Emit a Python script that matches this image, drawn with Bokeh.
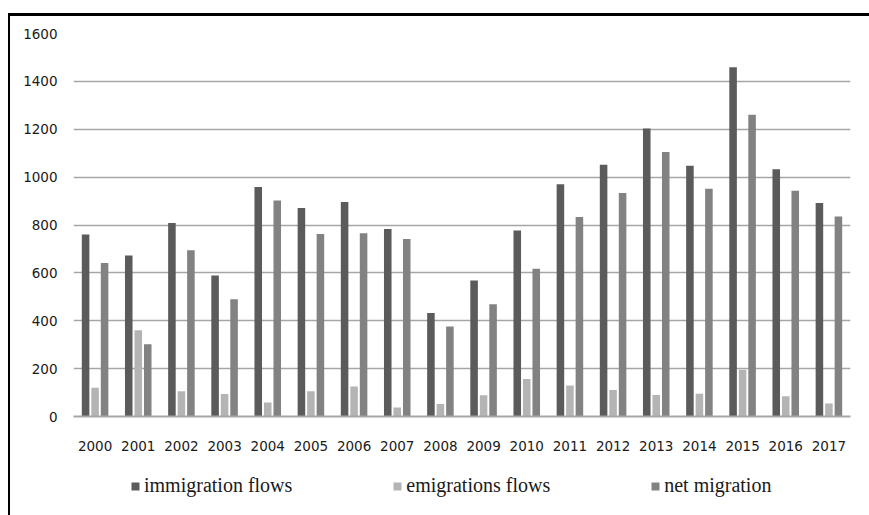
from bokeh.plotting import figure
from bokeh.layouts import column
from bokeh.models import (ColumnDataSource, FactorRange, Range1d, FixedTicker,
                          Legend, LegendItem)
from bokeh.transform import dodge
from bokeh.embed import file_html
from bokeh.resources import INLINE

# Migration flows per year (thousands)
years = [str(y) for y in range(2000, 2018)]
immigration = [760, 673, 808, 589, 959, 871, 896, 783, 432, 568,
               777, 970, 1052, 1203, 1048, 1459, 1033, 892]
emigration = [120, 360, 105, 94, 58, 105, 125, 38, 52, 89,
              157, 130, 111, 90, 95, 195, 85, 54]
net_migration = [641, 302, 694, 490, 902, 762, 766, 741, 376, 469,
                 617, 833, 934, 1105, 951, 1261, 943, 835]
y_ticks = [0, 200, 400, 600, 800, 1000, 1200, 1400, 1600]

series_keys = ["imm", "emi", "net"]
series_labels = ["immigration flows", "emigrations flows", "net migration"]
series_colors = ["#5b5b5b", "#b4b4b4", "#828282"]
series_offsets = [-0.22, 0.0, 0.22]

source = ColumnDataSource(data=dict(
    year=years, imm=immigration, emi=emigration, net=net_migration))

p = figure(x_range=FactorRange(factors=years), y_range=Range1d(0, 1600),
           width=859, height=440, output_backend="svg", toolbar_location=None,
           min_border_left=63, min_border_right=19,
           min_border_top=17, min_border_bottom=40)
p.outline_line_color = None
p.border_fill_color = "white"

bar_w = 0.175
for key, col, off in zip(series_keys, series_colors, series_offsets):
    p.vbar(x=dodge("year", off, range=p.x_range), top=key, width=bar_w,
           source=source, fill_color=col, line_color=None)

# axes and grid
p.yaxis.ticker = FixedTicker(ticks=y_ticks)
p.yaxis.axis_line_color = None
p.yaxis.major_label_standoff = 16
p.xaxis.axis_line_color = "#a6a6a6"
p.xaxis.axis_line_width = 2
p.xaxis.major_label_standoff = 24
for ax in (p.xaxis, p.yaxis):
    ax.major_tick_line_color = None
    ax.minor_tick_line_color = None
    ax.major_tick_out = 0
    ax.major_tick_in = 0
    ax.major_label_text_font = "DejaVu Sans"
    ax.major_label_text_font_size = "13.5px"
    ax.major_label_text_color = "#1a1a1a"
p.xgrid.grid_line_color = None
p.ygrid.grid_line_color = "#a6a6a6"
p.ygrid.grid_line_width = 1.5

# legend strip under the chart; its keys come from zero-size placeholder bars
lg = figure(width=859, height=59, output_backend="svg", toolbar_location=None,
            x_range=Range1d(0, 1), y_range=Range1d(0, 1),
            x_axis_type=None, y_axis_type=None,
            min_border_left=0, min_border_right=0,
            min_border_top=0, min_border_bottom=0)
lg.outline_line_color = None
lg.grid.visible = False
keys = [lg.vbar(x=[0], top=[0], bottom=[0], width=0,
                fill_color=col, line_color=None) for col in series_colors]
legend = Legend(items=[LegendItem(label=lab, renderers=[r])
                       for lab, r in zip(series_labels, keys)],
                orientation="horizontal", location=(57, 18), spacing=100,
                glyph_width=10, glyph_height=10, label_standoff=4,
                padding=0, margin=0, border_line_color=None,
                background_fill_alpha=0,
                label_text_font="Liberation Serif",
                label_text_font_size="20px", label_text_color="#1a1a1a")
lg.add_layout(legend)

# framed chart area: only the top and left edges of the frame are visible
layout = column(p, lg, spacing=0)
layout.styles = {"margin-left": "8px", "margin-top": "13px",
                 "border-left": "2px solid #000", "border-top": "3px solid #000"}

open("out.html", "w").write(file_html(layout, INLINE))
